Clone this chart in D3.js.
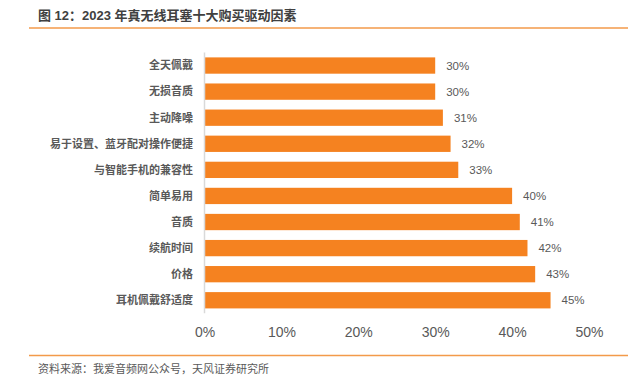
<!DOCTYPE html>
<html>
<head>
<meta charset="utf-8">
<script src="https://cdn.jsdelivr.net/npm/d3@7"></script>
<style>
  body { margin: 0; background: #fff; }
  text { font-family: "Liberation Sans", "Noto Sans CJK SC", sans-serif; }
</style>
</head>
<body>
<div id="chart"></div>
<script>
// chart data
var categories = ["全天佩戴", "无损音质", "主动降噪", "易于设置、蓝牙配对操作便捷", "与智能手机的兼容性",
                  "简单易用", "音质", "续航时间", "价格", "耳机佩戴舒适度"];
var values = [30, 30, 31, 32, 33, 40, 41, 42, 43, 45];
var xTicks = [0, 10, 20, 30, 40, 50];
var title = "图 12：2023 年真无线耳塞十大购买驱动因素";
var source = "资料来源：我爱音频网公众号，天风证券研究所";

var width = 631, height = 385;

var svg = d3.select("#chart").append("svg")
    .attr("width", width)
    .attr("height", height);

// title and frame lines
svg.append("text")
    .attr("x", 38).attr("y", 20)
    .attr("font-size", 13).attr("font-weight", "bold")
    .attr("fill", "#404040")
    .text(title);
svg.append("line")
    .attr("x1", 29).attr("x2", 628).attr("y1", 28).attr("y2", 28)
    .attr("stroke", "#f39a4a").attr("stroke-width", 1.5);
svg.append("line")
    .attr("x1", 29).attr("x2", 628).attr("y1", 355.5).attr("y2", 355.5)
    .attr("stroke", "#f39a4a").attr("stroke-width", 1.5);
svg.append("text")
    .attr("x", 38).attr("y", 373)
    .attr("font-size", 11)
    .attr("fill", "#595959")
    .text(source);

// scales
var x = d3.scaleLinear().domain([0, 50]).range([204.5, 589]);
var y = d3.scaleBand().domain(categories).range([52.5, 313.3])
    .paddingInner(0.375).paddingOuter(0.1875);

// bars
svg.selectAll("rect.bar")
    .data(values)
    .enter()
    .append("rect")
    .attr("class", "bar")
    .attr("x", x(0))
    .attr("y", function (d, i) { return y(categories[i]); })
    .attr("width", function (d) { return x(d) - x(0); })
    .attr("height", y.bandwidth())
    .attr("fill", "#f58220");

// value labels
svg.selectAll("text.val")
    .data(values)
    .enter()
    .append("text")
    .attr("class", "val")
    .attr("x", function (d) { return x(d) + 11; })
    .attr("y", function (d, i) { return y(categories[i]) + y.bandwidth() / 2; })
    .attr("dy", "0.35em")
    .attr("font-size", 11.5)
    .attr("fill", "#595959")
    .text(function (d) { return d + "%"; });

// category labels
svg.selectAll("text.cat")
    .data(categories)
    .enter()
    .append("text")
    .attr("class", "cat")
    .attr("x", 193)
    .attr("y", function (d) { return y(d) + y.bandwidth() / 2; })
    .attr("dy", "0.35em")
    .attr("text-anchor", "end")
    .attr("font-size", 11)
    .attr("font-weight", "bold")
    .attr("fill", "#595959")
    .text(function (d) { return d; });

// y axis line
svg.append("line")
    .attr("x1", x(0)).attr("x2", x(0))
    .attr("y1", y.range()[0]).attr("y2", y.range()[1])
    .attr("stroke", "#d9d9d9").attr("stroke-width", 1.5);

// x axis labels
var xAxis = d3.axisBottom(x)
    .tickValues(xTicks)
    .tickSize(0)
    .tickPadding(0)
    .tickFormat(function (d) { return d + "%"; });
var gx = svg.append("g")
    .attr("transform", "translate(0,327)")
    .call(xAxis);
gx.select(".domain").remove();
gx.selectAll("text")
    .attr("font-family", "Liberation Sans, sans-serif")
    .attr("font-size", 14)
    .attr("fill", "#595959");
</script>
</body>
</html>
